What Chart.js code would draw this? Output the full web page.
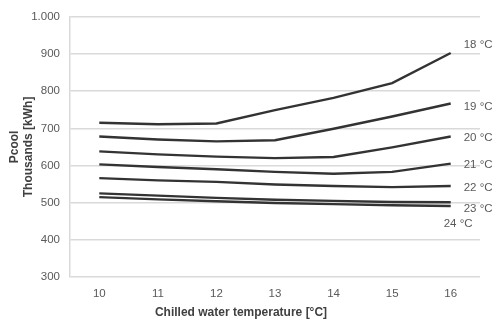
<!DOCTYPE html>
<html>
  <head>
    <title>Pcool vs chilled water temperature</title>
    <script src="https://cdn.jsdelivr.net/npm/chart.js"></script>
    <style>
      html, body { margin: 0; padding: 0; background: #fff; }
    </style>
  </head>
  <body>
    <canvas id="pcoolChart" width="494" height="325"></canvas>
    <script>
      // chilled water temperature [°C]
      const temps = ["10", "11", "12", "13", "14", "15", "16"];
      // Pcool in thousands kWh, one array per supply air temperature
      const t18 = [715, 711, 713, 749, 782, 822, 903];
      const t19 = [678, 670, 665, 668, 699, 732, 767];
      const t20 = [638, 630, 624, 620, 623, 649, 678];
      const t21 = [603, 596, 590, 583, 578, 583, 605];
      const t22 = [566, 560, 556, 549, 545, 542, 545];
      const t23 = [525, 519, 513, 508, 505, 502, 501];
      const t24 = [515, 509, 504, 499, 496, 493, 491];
      const seriesNames = ["18 °C", "19 °C", "20 °C", "21 °C", "22 °C", "23 °C", "24 °C"];
      const yTicks = [300, 400, 500, 600, 700, 800, 900, 1000];

      const allSeries = [t18, t19, t20, t21, t22, t23, t24];
      // label nudges next to line ends
      const labelNudge = [[13, -8], [13, 3], [13, 1], [13, 1], [13, 2], [13, 7], [-7, 18]];
      const fontFam = "'Liberation Sans', Arial, sans-serif";

      const endLabels = {
        id: "endLabels",
        afterDatasetsDraw(chart) {
          const ctx = chart.ctx;
          ctx.save();
          ctx.font = "11.5px " + fontFam;
          ctx.fillStyle = "#595959";
          ctx.textBaseline = "middle";
          ctx.textAlign = "left";
          chart.data.datasets.forEach((ds, i) => {
            const meta = chart.getDatasetMeta(i);
            const pt = meta.data[meta.data.length - 1];
            ctx.fillText(ds.label, pt.x + labelNudge[i][0], pt.y + labelNudge[i][1]);
          });
          // x axis title (sits left of centre in the original)
          ctx.font = "bold 12px " + fontFam;
          ctx.fillStyle = "#404040";
          ctx.textAlign = "center";
          ctx.fillText("Chilled water temperature [°C]", 241, 313);
          ctx.restore();
        },
      };

      const ctx = document.getElementById("pcoolChart").getContext("2d");
      new Chart(ctx, {
        type: "line",
        data: {
          labels: temps,
          datasets: allSeries.map((vals, i) => ({
            label: seriesNames[i],
            data: vals,
            borderColor: "#333333",
            borderWidth: 2.4,
            pointRadius: 0,
            tension: 0,
            fill: false,
          })),
        },
        options: {
          responsive: false,
          animation: false,
          devicePixelRatio: 1,
          layout: { padding: { top: 16, right: 14, bottom: 0, left: 7 } },
          plugins: { legend: { display: false }, tooltip: { enabled: false } },
          scales: {
            x: {
              offset: true,
              grid: { display: false },
              border: { display: false },
              ticks: {
                color: "#595959",
                font: { size: 11.5, family: fontFam },
                padding: 2,
              },
              afterFit(scale) { scale.height = 48; },
            },
            y: {
              min: 300,
              max: 1000,
              afterBuildTicks(scale) { scale.ticks = yTicks.map((v) => ({ value: v })); },
              grid: { color: "#d9d9d9", lineWidth: 1.5, drawTicks: false },
              border: { display: true, color: "#d9d9d9", width: 1.5 },
              ticks: {
                color: "#595959",
                font: { size: 11.5, family: fontFam },
                padding: 10,
                autoSkip: false,
                callback: (v) => (v >= 1000 ? "1.000" : String(v)),
              },
              title: {
                display: true,
                text: ["Pcool", "Thousands [kWh]"],
                color: "#404040",
                font: { size: 12, weight: "bold", family: fontFam, lineHeight: 1.2 },
                padding: 0,
              },
              afterFit(scale) { scale.width = 63; },
            },
          },
        },
        plugins: [endLabels],
      });
    </script>
  </body>
</html>
